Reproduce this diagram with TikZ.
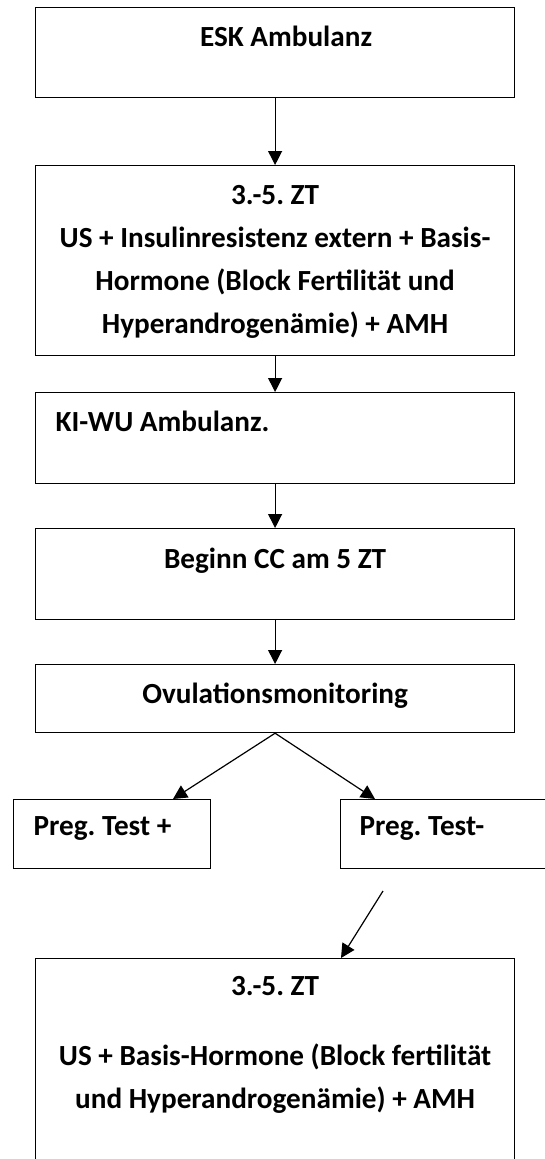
\documentclass[tikz,border=0pt]{standalone}
\usepackage{fontspec}
\setmainfont{Carlito}
\usetikzlibrary{arrows.meta, calc}
\tikzset{
    box/.style = {draw, line width=1.2pt, inner xsep=0pt, inner ysep=0pt,
        minimum width=479pt, anchor=north west,
        font=\fontsize{29.2}{43}\selectfont\bfseries\frenchspacing},
    arr/.style = {-{Triangle[length=14pt,width=14pt]}, line width=1.2pt},
}
\newcommand{\lefttext}[2]{\makebox[#1][l]{#2}}

\begin{document}
\begin{tikzpicture}[x=1pt,y=-1pt]
\path[use as bounding box, clip] (0,0) rectangle (545,1159);

\node[box, text height=39pt, text depth=51pt] (esk) at (35,7) {\hspace*{22pt}ESK Ambulanz};
\node[box, align=center, text height=168pt, text depth=22pt] (zt) at (35,165)
    {3.-5. ZT\\US + Insulinresistenz extern + Basis-\\Hormone (Block Fertilität und\\Hyperandrogenämie) + AMH};
\node[box, inner xsep=20pt, text height=39pt, text depth=52pt] (kiwu) at (35,392) {\lefttext{439pt}{KI-WU Ambulanz.}};
\node[box, text height=40pt, text depth=51pt] (cc) at (35,528) {Beginn CC am 5 ZT};
\node[box, text height=39pt, text depth=29pt] (ovu) at (35,664) {Ovulationsmonitoring};

% branches
\node[box, inner xsep=20pt, minimum width=197pt, text height=36pt, text depth=33pt] (pos) at (13,799) {\lefttext{157pt}{Preg. Test +}};
\node[box, inner xsep=19pt, minimum width=260pt, text height=36pt, text depth=33pt] (neg) at (340,799) {\lefttext{222pt}{Preg. Test-}};

\node[box, align=center, text height=150pt, text depth=100pt] (zt2) at (35,958)
    {3.-5. ZT\\[27pt]US + Basis-Hormone (Block fertilität\\und Hyperandrogenämie) + AMH};

\draw[arr] (esk.south) -- (zt.north);
\draw[arr] (zt.south) -- (kiwu.north);
\draw[arr] (kiwu.south) -- (cc.north);
\draw[arr] (cc.south) -- (ovu.north);
\draw[arr] (ovu.south) -- ([xshift=160pt]pos.north west);
\draw[arr] (ovu.south) -- ([xshift=35pt]neg.north west);

\coordinate (negout) at (383,891);
\draw[arr] (negout) -- ([xshift=306pt]zt2.north west);
\end{tikzpicture}
\end{document}
